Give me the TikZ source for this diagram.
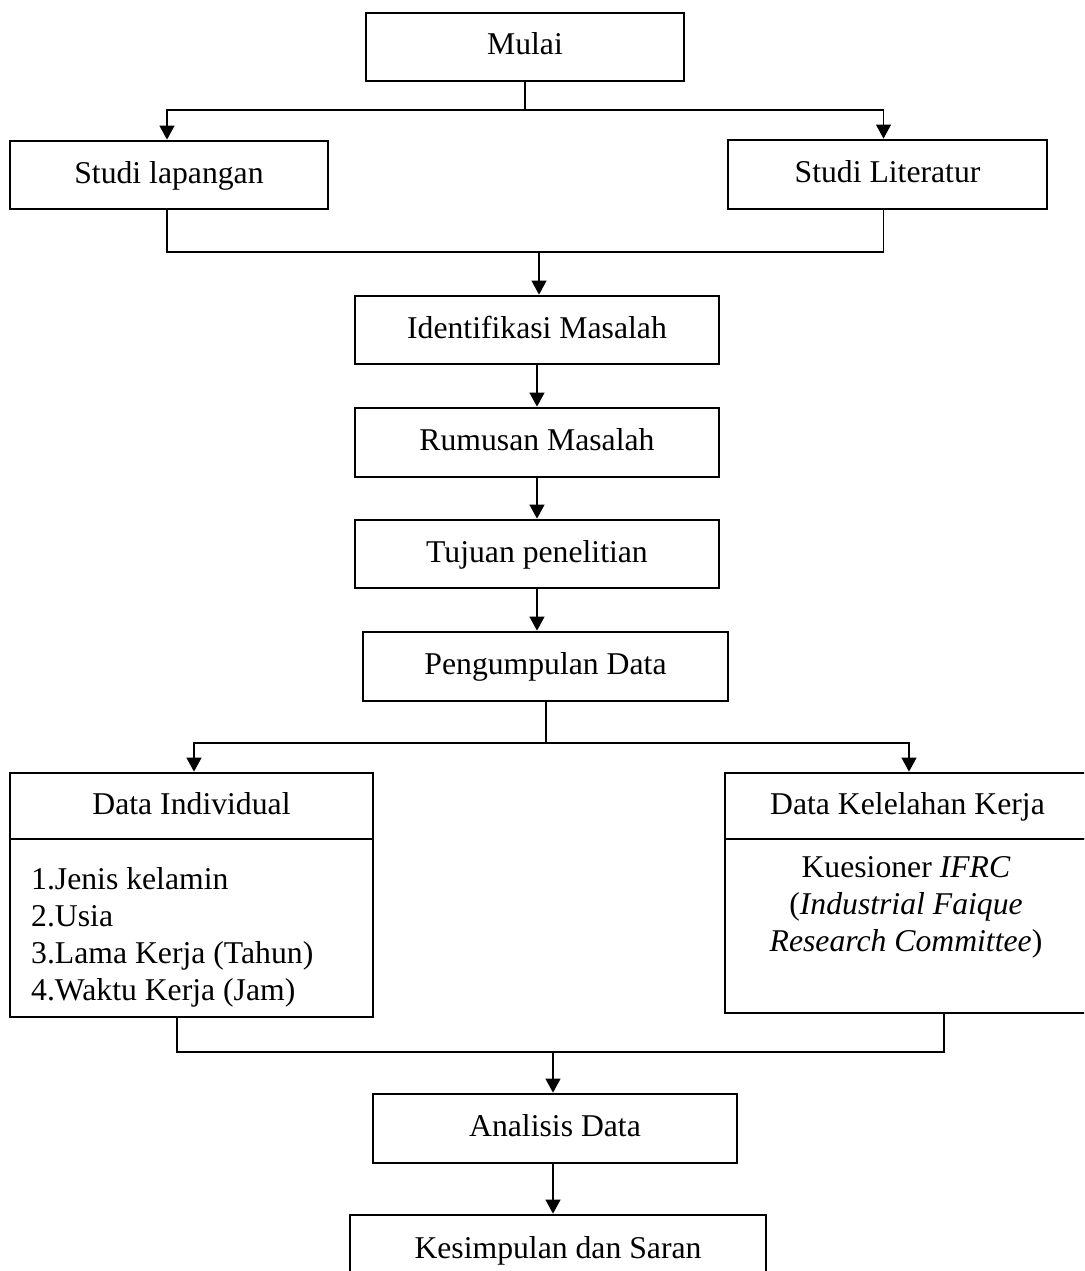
\documentclass[tikz,border=0pt]{standalone}
\usepackage{fontspec}
\setmainfont{Liberation Serif}
\usetikzlibrary{arrows.meta}
\begin{document}
\begin{tikzpicture}[x=1pt,y=-1pt,
  box/.style={draw, line width=2.8pt, inner sep=0pt, text height=21pt, text depth=5pt, font=\fontsize{31.7}{37}\selectfont},
  conn/.style={line width=1.1pt},
  arr/.style={conn, -{Triangle[length=14pt,width=15pt]}},
  txt/.style={inner sep=0pt, font=\fontsize{31.7}{37}\selectfont}]
\clip (0,0) rectangle (1084,1271);
\fill[white] (0,0) rectangle (1084,1271);

\node[box, minimum width=318pt, minimum height=68pt] (mulai) at (525,47) {Mulai};
\node[box, minimum width=318pt, minimum height=68pt] (lap) at (169,175) {Studi lapangan};
\node[box, minimum width=319pt, minimum height=69pt] (lit) at (887.5,174.5) {Studi Literatur};
\node[box, minimum width=364pt, minimum height=68pt] (iden) at (537,330) {Identifikasi Masalah};
\node[box, minimum width=364pt, minimum height=69pt] (rum) at (537,442.5) {Rumusan Masalah};
\node[box, minimum width=364pt, minimum height=68pt] (tuj) at (537,554) {Tujuan penelitian};
\node[box, minimum width=365pt, minimum height=69pt] (peng) at (545.5,666.5) {Pengumpulan Data};

\node[box, minimum width=363pt, minimum height=66pt] (indh) at (191.5,806) {Data Individual};
\node[box, minimum width=363pt, minimum height=178pt] (indb) at (191.5,928) {};
\node[txt, anchor=west, align=left] (indlist) at (31,937) {1.Jenis kelamin\\2.Usia\\3.Lama Kerja (Tahun)\\4.Waktu Kerja (Jam)};

\node[box, minimum width=365pt, minimum height=66pt] (kelh) at (907.5,806) {Data Kelelahan Kerja};
\node[box, minimum width=365pt, minimum height=174pt] (kelb) at (907.5,926) {};
\node[txt, align=center] (kues) at (906,907) {Kuesioner \textit{IFRC}\\(\textit{Industrial Faique}\\\textit{Research Committee})};

\node[box, minimum width=364pt, minimum height=69pt] (ana) at (555,1128.5) {Analisis Data};
\node[box, minimum width=416pt, minimum height=70pt] (kes) at (558,1250) {Kesimpulan dan Saran};

% connectors
\coordinate (s1) at (525,110);
\draw[conn] (mulai.south) -- (s1);
\draw[arr] (s1) -| ([xshift=-2pt]lap.north);
\draw[arr] (s1) -| ([xshift=-4pt]lit.north);

\coordinate (j1) at (539,252);
\draw[conn] ([xshift=-2pt]lap.south) |- (j1);
\draw[conn] ([xshift=-4pt]lit.south) |- (j1);
\draw[arr] (j1) -- (j1 |- iden.north);

\draw[arr] (iden.south) -- (rum.north);
\draw[arr] (rum.south) -- (tuj.north);
\draw[arr] (tuj.south) -- (tuj.south |- peng.north);

\coordinate (s2) at (546,743);
\draw[conn] (peng.south -| s2) -- (s2);
\draw[arr] (s2) -| ([xshift=2.5pt]indh.north);
\draw[arr] (s2) -| ([xshift=1.5pt]kelh.north);

\coordinate (j2) at (553,1052);
\draw[conn] ([xshift=-14.5pt]indb.south) |- (j2);
\draw[conn] ([xshift=36.5pt]kelb.south) |- (j2);
\draw[arr] (j2) -- (j2 |- ana.north);

\draw[arr] (ana.south -| j2) -- (j2 |- kes.north);
\end{tikzpicture}
\end{document}
